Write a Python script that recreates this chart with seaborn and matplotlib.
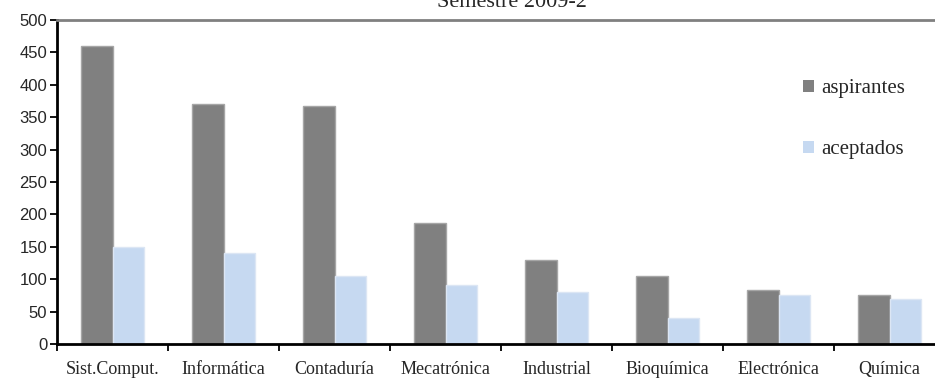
import matplotlib
matplotlib.use("Agg")
import matplotlib.pyplot as plt
from matplotlib.patches import Patch
import numpy as np
import pandas as pd
import seaborn as sns

carreras = ["Sist.Comput.", "Informática", "Contaduría", "Mecatrónica",
            "Industrial", "Bioquímica", "Electrónica", "Química"]
aspirantes = [460, 370, 367, 187, 129, 105, 83, 76]
aceptados = [150, 141, 105, 91, 81, 40, 76, 69]
series = ["aspirantes", "aceptados"]
colores = {"aspirantes": "#808080", "aceptados": "#C6D9F1"}
bordes = {"aspirantes": "#A6A6A6", "aceptados": "#DCE6F4"}
titulo = "Semestre 2009-2"
yticks = list(range(0, 501, 50))

df = pd.DataFrame({
    "carrera": carreras * 2,
    "serie": [series[0]] * len(carreras) + [series[1]] * len(carreras),
    "valor": aspirantes + aceptados,
})

sns.set_style("white")
plt.rcParams["font.family"] = ["Liberation Serif", "DejaVu Serif"]

fig = plt.figure(figsize=(9.35, 3.81), dpi=100)
ax = fig.add_axes([57 / 935, 1 - 344 / 381, 888 / 935, 324 / 381])

sns.barplot(data=df, x="carrera", y="valor", hue="serie", order=carreras,
            hue_order=series, palette=colores, width=0.57, gap=0,
            saturation=1, linewidth=0, ax=ax, legend=False)

for cont, s in zip(ax.containers, series):
    for bar in cont:
        bar.set_edgecolor(bordes[s])
        bar.set_linewidth(1.0)

ax.set_xlim(-0.5, len(carreras) - 0.5)
ax.set_ylim(0, 500)
ax.set_xlabel("")
ax.set_ylabel("")

# y axis
ax.set_yticks(yticks)
ax.set_yticklabels([str(v) for v in yticks], family="Liberation Sans", fontsize=12)
ax.tick_params(axis="y", which="major", direction="out", length=5, width=1.3,
               color="black", left=True, pad=2)

# x axis: labels at centers, tick marks between categories
ax.set_xticks(range(len(carreras)))
ax.set_xticklabels(carreras, fontsize=13)
ax.tick_params(axis="x", which="major", length=0, pad=12)
ax.set_xticks(np.arange(-0.5, len(carreras), 1.0), minor=True)
ax.tick_params(axis="x", which="minor", direction="out", length=5, width=1.3,
               color="black", bottom=True)

for side in ["left", "bottom"]:
    ax.spines[side].set_color("black")
    ax.spines[side].set_linewidth(2)
ax.spines["right"].set_visible(False)
ax.spines["top"].set_color("#808080")
ax.spines["top"].set_linewidth(2)

handles = [Patch(facecolor=colores[s], edgecolor="none", label=s) for s in series]
fig.legend(handles=handles, loc="upper left", bbox_to_anchor=(793 / 935, 1 - 69 / 381),
           frameon=False, fontsize=15, handlelength=0.5, handleheight=0.5,
           handletextpad=0.35, labelspacing=2.0, borderpad=0)

fig.text(512 / 935, 1 - 7 / 381, titulo, ha="center", va="baseline", fontsize=16)

fig.savefig("out.png", dpi=100)
